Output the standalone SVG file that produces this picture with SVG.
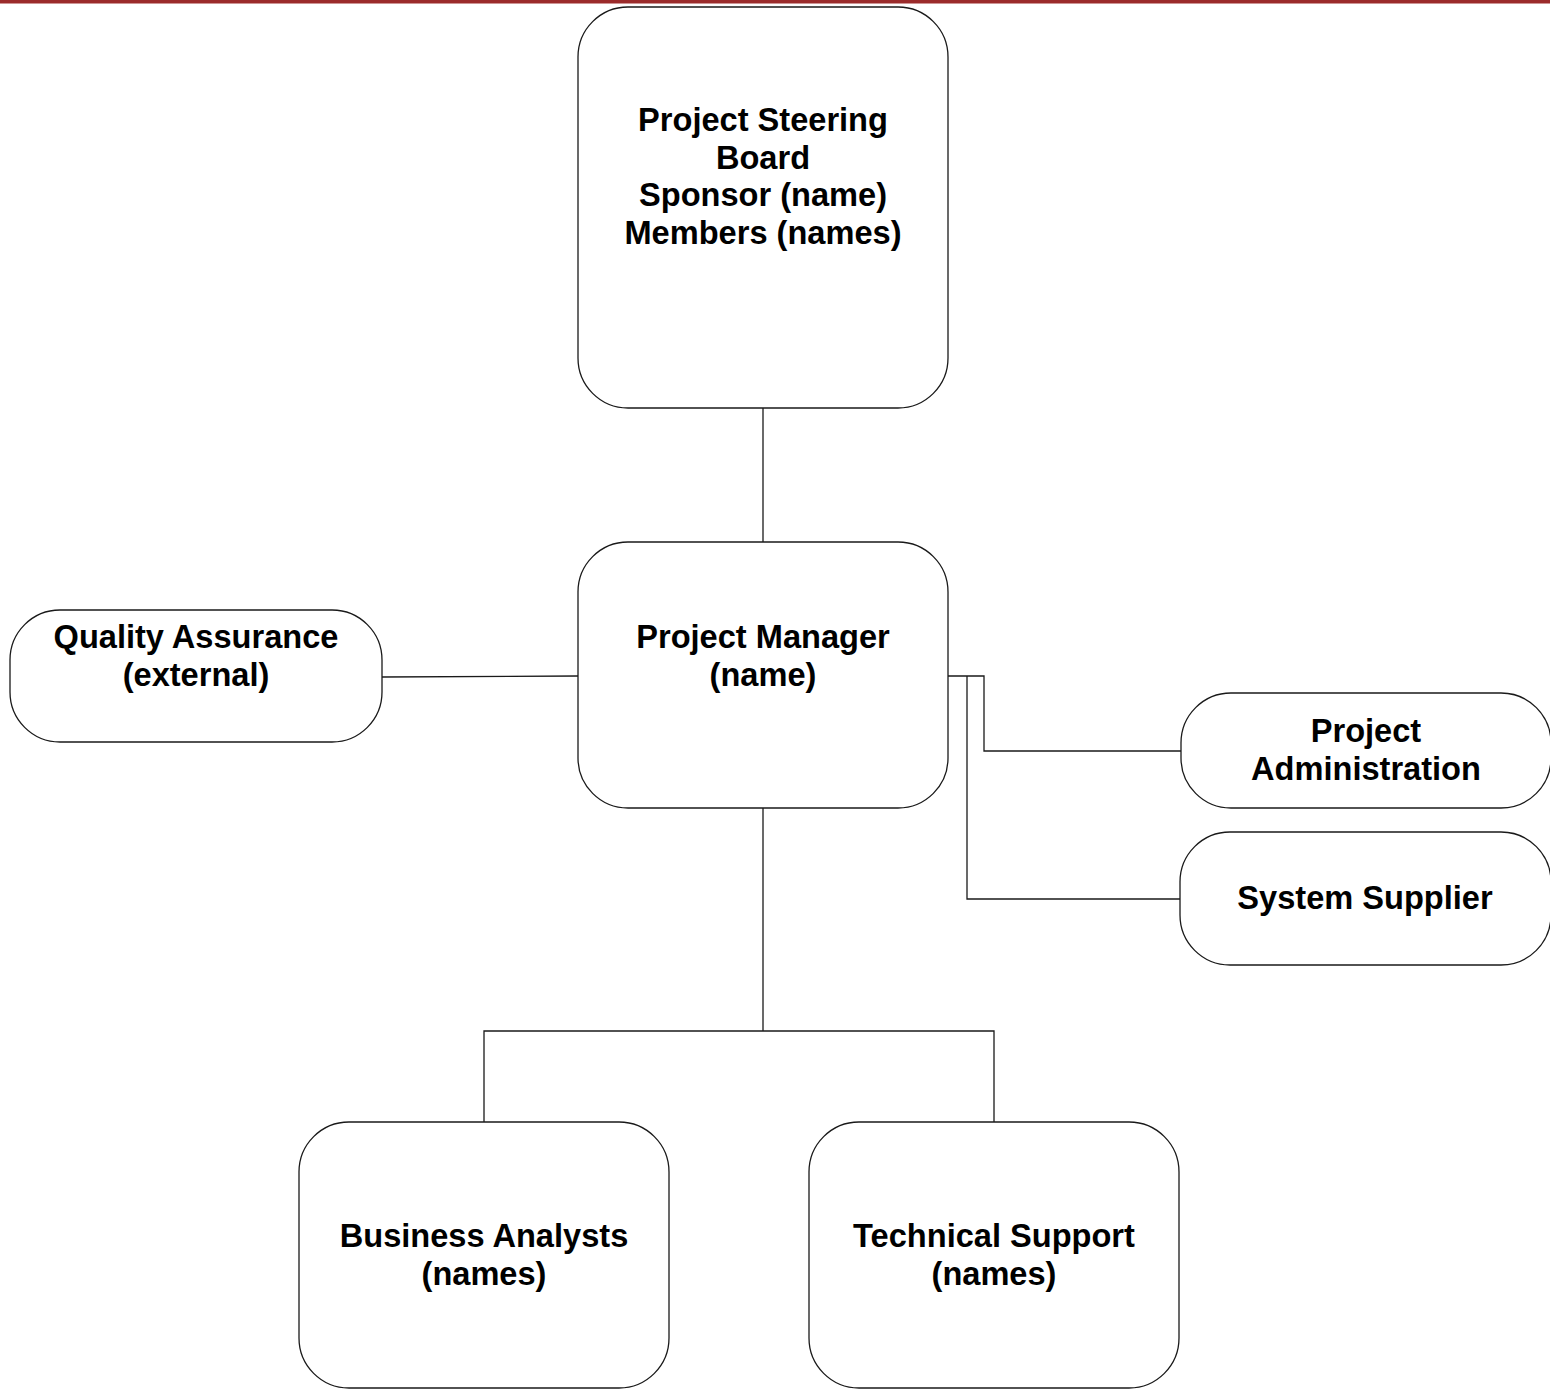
<svg xmlns="http://www.w3.org/2000/svg" width="1550" height="1390" viewBox="0 0 1550 1390">
<style>
.box{fill:#fff;stroke:#1a1a1a;stroke-width:1.3}
.lbl{font-family:"Liberation Sans",Arial,sans-serif;font-weight:bold;font-size:32.6px;fill:#000;text-anchor:middle}
.con{fill:none;stroke:#1a1a1a;stroke-width:1.3}
</style>
<rect x="0" y="0" width="1550" height="1390" fill="#fff"/>
<rect x="0" y="0" width="1550" height="3.5" fill="#9b2b2b"/>
<g id="connectors">
<path class="con" d="M763 408V542"/>
<path class="con" d="M382 677L578 676"/>
<path class="con" d="M948 676H984V751H1181"/>
<path class="con" d="M967 676V899H1180"/>
<path class="con" d="M763 808V1031M484 1122V1031H994V1122"/>
</g>
<g id="steering">
<rect class="box" x="578" y="7" width="370" height="401" rx="50" ry="50"/>
<text class="lbl" x="763" y="131">Project Steering</text>
<text class="lbl" x="763" y="168.5">Board</text>
<text class="lbl" x="763" y="206">Sponsor (name)</text>
<text class="lbl" x="763" y="243.5">Members (names)</text>
</g>
<g id="pm">
<rect class="box" x="578" y="542" width="370" height="266" rx="50" ry="50"/>
<text class="lbl" x="763" y="648">Project Manager</text>
<text class="lbl" x="763" y="685.5">(name)</text>
</g>
<g id="qa">
<rect class="box" x="10" y="610" width="372" height="132" rx="50" ry="50"/>
<text class="lbl" x="196" y="648">Quality Assurance</text>
<text class="lbl" x="196" y="686">(external)</text>
</g>
<g id="admin">
<rect class="box" x="1181" y="693" width="370" height="115" rx="50" ry="50"/>
<text class="lbl" x="1366" y="742">Project</text>
<text class="lbl" x="1366" y="780">Administration</text>
</g>
<g id="supplier">
<rect class="box" x="1180" y="832" width="371" height="133" rx="50" ry="50"/>
<text class="lbl" x="1365" y="909">System Supplier</text>
</g>
<g id="ba">
<rect class="box" x="299" y="1122" width="370" height="266" rx="50" ry="50"/>
<text class="lbl" x="484" y="1247">Business Analysts</text>
<text class="lbl" x="484" y="1285">(names)</text>
</g>
<g id="ts">
<rect class="box" x="809" y="1122" width="370" height="266" rx="50" ry="50"/>
<text class="lbl" x="994" y="1247">Technical Support</text>
<text class="lbl" x="994" y="1285">(names)</text>
</g>
</svg>
